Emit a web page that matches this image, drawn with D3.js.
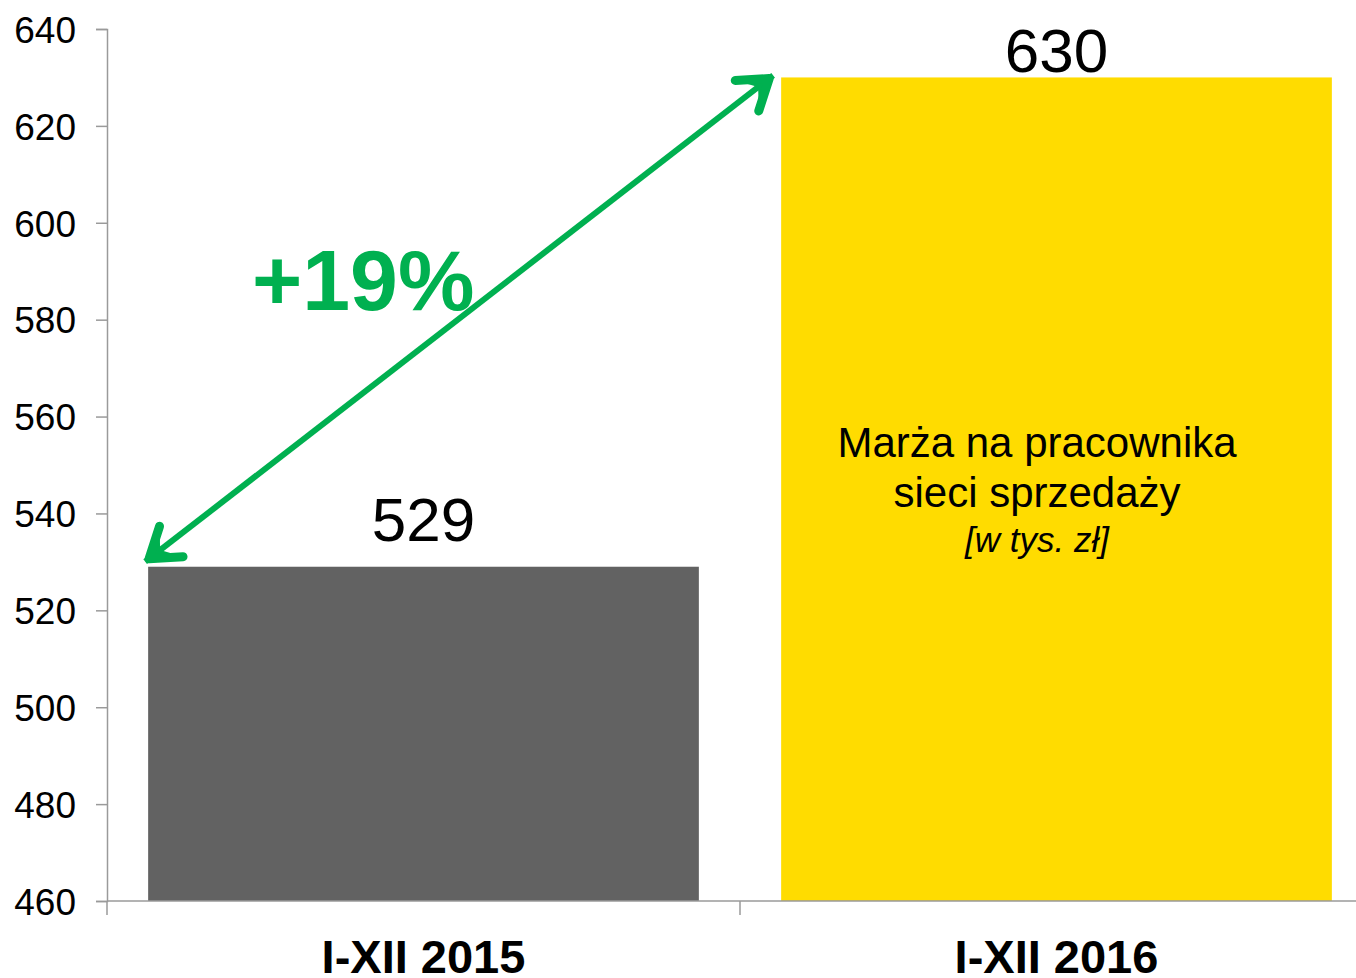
<!DOCTYPE html>
<html><head><meta charset="utf-8">
<script src="https://cdn.jsdelivr.net/npm/d3@7"></script>
<style>html,body{margin:0;padding:0;background:#fff;overflow:hidden}svg{display:block;font-family:"Liberation Sans",Arial,sans-serif}</style>
</head><body>
<svg id="c" width="1356" height="978"></svg>
<script>
const categories = ["I-XII 2015", "I-XII 2016"];
const values = [529, 630];
const yTicks = [460, 480, 500, 520, 540, 560, 580, 600, 620, 640];
const barColors = ["#626262", "#FFDC00"];
const changeLabel = "+19%";
const noteLines = ["Marża na pracownika", "sieci sprzedaży"];
const noteUnit = "[w tys. zł]";

const svg = d3.select("#c");
const y = d3.scaleLinear().domain([460, 640]).range([901, 29]);
const x = d3.scaleBand().domain(categories).range([107, 1373]).paddingInner(0.13).paddingOuter(0.065);
const axisColor = "#9a9a9a";

// bars
svg.selectAll("rect.bar").data(values).join("rect")
  .attr("x", (d, i) => x(categories[i]))
  .attr("y", d => y(d))
  .attr("width", x.bandwidth())
  .attr("height", d => y(460) - y(d))
  .attr("fill", (d, i) => barColors[i]);

// y axis
const yAxis = svg.append("g").attr("transform", "translate(107,0)")
  .call(d3.axisLeft(y).tickValues(yTicks).tickSize(11).tickPadding(20).tickFormat(d3.format("d")));
yAxis.select(".domain").attr("stroke", axisColor).attr("stroke-width", 1.5);
yAxis.selectAll(".tick line").attr("stroke", axisColor).attr("stroke-width", 1.5);
yAxis.selectAll(".tick text").attr("font-size", 37).attr("fill", "#000")
  .attr("font-family", "Liberation Sans, Arial, sans-serif").attr("dy", "0.36em");

// x axis
const step = x.step();
const bounds = [x(categories[0]) - step * x.paddingOuter(),
  x(categories[0]) + x.bandwidth() + step * x.paddingInner() / 2,
  x(categories[1]) + x.bandwidth() + step * x.paddingOuter()];
svg.append("line").attr("x1", bounds[0]).attr("x2", bounds[2])
  .attr("y1", y(460)).attr("y2", y(460)).attr("stroke", axisColor).attr("stroke-width", 1.5);
svg.selectAll("line.xt").data(bounds).join("line").attr("class", "xt")
  .attr("x1", d => d).attr("x2", d => d).attr("y1", y(460)).attr("y2", y(460) + 14)
  .attr("stroke", axisColor).attr("stroke-width", 1.5);
svg.selectAll("text.cat").data(categories).join("text").attr("class", "cat")
  .attr("x", d => x(d) + x.bandwidth() / 2).attr("y", 973)
  .attr("text-anchor", "middle").attr("font-size", 47).attr("font-weight", "bold").attr("fill", "#000")
  .text(d => d);

// value labels
svg.selectAll("text.val").data(values).join("text").attr("class", "val")
  .attr("x", (d, i) => x(categories[i]) + x.bandwidth() / 2)
  .attr("y", d => Math.max(y(d) - 26, 72))
  .attr("text-anchor", "middle").attr("font-size", 62).attr("fill", "#000")
  .text(d => d);

// arrow
const green = "#00B050";
const p0 = [x(categories[0]) - 3, y(values[0]) - 5];
const p1 = [x(categories[1]) - 8, y(values[1]) - 2];
svg.append("line").attr("x1", p0[0]).attr("y1", p0[1]).attr("x2", p1[0]).attr("y2", p1[1])
  .attr("stroke", green).attr("stroke-width", 6);
function inward(tip, from, d) {
  const a = Math.atan2(from[1] - tip[1], from[0] - tip[0]);
  return [tip[0] + d * Math.cos(a), tip[1] + d * Math.sin(a)];
}
function head(tip, from) {
  const a = Math.atan2(from[1] - tip[1], from[0] - tip[0]);
  const L = 34, s = 0.6;
  const b1 = [tip[0] + L * Math.cos(a - s), tip[1] + L * Math.sin(a - s)];
  const b2 = [tip[0] + L * Math.cos(a + s), tip[1] + L * Math.sin(a + s)];
  const m = inward(tip, from, 14);
  svg.append("path").attr("d", `M${b1}L${tip}L${b2}L${m}Z`).attr("fill", green).attr("stroke", "none");
  svg.append("path").attr("d", `M${b1}L${tip}L${b2}`).attr("fill", "none")
    .attr("stroke", green).attr("stroke-width", 9).attr("stroke-linecap", "round").attr("stroke-linejoin", "round");
}
head(inward(p0, p1, 5), p1);
head(inward(p1, p0, 5), p0);

svg.append("text").attr("x", 252).attr("y", 310).attr("font-size", 86).attr("font-weight", "bold")
  .attr("fill", green).text(changeLabel);

// note
const nx = 1037;
svg.selectAll("text.note").data(noteLines).join("text").attr("class", "note")
  .attr("x", nx).attr("y", (d, i) => 457 + i * 50).attr("text-anchor", "middle")
  .attr("font-size", 42).attr("fill", "#000").text(d => d);
svg.append("text").attr("x", nx).attr("y", 552).attr("text-anchor", "middle")
  .attr("font-size", 35).attr("font-style", "italic").attr("fill", "#000").text(noteUnit);
</script>
</body></html>
